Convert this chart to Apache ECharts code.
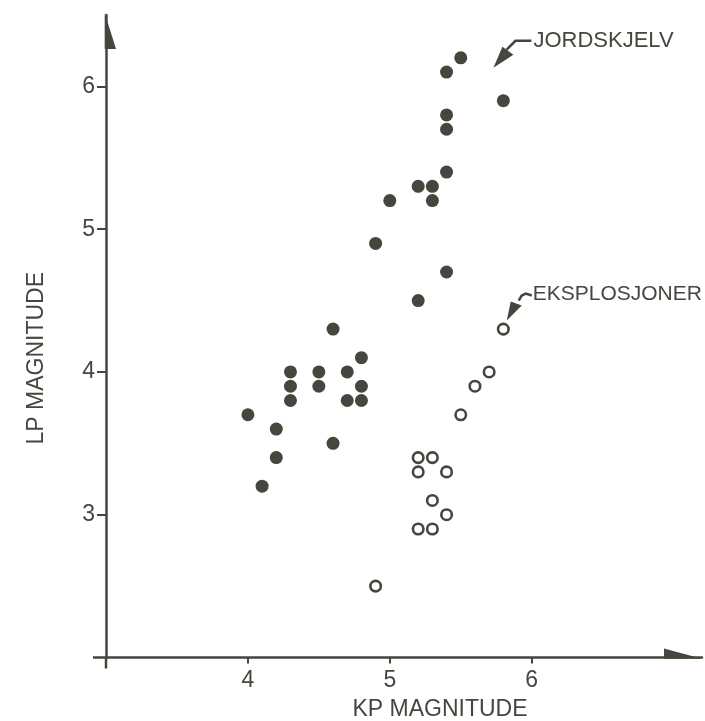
<!DOCTYPE html>
<html><head><meta charset="utf-8">
<script src="https://cdn.jsdelivr.net/npm/echarts@6/dist/echarts.min.js"></script>
<style>html,body{margin:0;padding:0;background:#fff}#c{width:705px;height:721px}</style>
</head><body><div id="c"></div>
<script>
const xTicks = [4, 5, 6];
const yTicks = [3, 4, 5, 6];
const earthquakeKP = [5.5,5.4,5.8,5.4,5.4,5.4,5.2,5.3,5.3,5.0,4.9,5.4,5.2,4.6,4.8,4.3,4.5,4.7,4.3,4.5,4.8,4.3,4.7,4.8,4.0,4.2,4.6,4.2,4.1];
const earthquakeLP = [6.2,6.1,5.9,5.8,5.7,5.4,5.3,5.3,5.2,5.2,4.9,4.7,4.5,4.3,4.1,4.0,4.0,4.0,3.9,3.9,3.9,3.8,3.8,3.8,3.7,3.6,3.5,3.4,3.2];
const explosionKP = [5.8,5.7,5.6,5.5,5.2,5.3,5.2,5.4,5.3,5.4,5.2,5.3,4.9];
const explosionLP = [4.3,4.0,3.9,3.7,3.4,3.4,3.3,3.3,3.1,3.0,2.9,2.9,2.5];
const annotationLabels = ['JORDSKJELV', 'EKSPLOSJONER'];
const annotationTips = [[5.73, 6.13], [5.824, 4.36]];

const INK = '#45463e';
const FONT = 'Liberation Sans';
const chart = echarts.init(document.getElementById('c'), null, {renderer: 'canvas'});

const quakes = earthquakeKP.map((x, i) => [x, earthquakeLP[i]]);
const blasts = explosionKP.map((x, i) => [x, explosionLP[i]]);

chart.setOption({
  animation: false,
  backgroundColor: '#fff',
  grid: {left: 106, right: 3, top: 15, bottom: 63.5, containLabel: false, outerBoundsMode: 'none'},
  xAxis: {
    type: 'value', min: 3, max: 7.2, interval: 1,
    name: 'KP MAGNITUDE', nameLocation: 'middle', nameGap: 41,
    nameTextStyle: {color: INK, fontFamily: FONT, fontSize: 23, padding: [0, 0, 0, 72]},
    axisLine: {show: true, lineStyle: {color: INK, width: 2.5}},
    axisTick: {show: true, customValues: xTicks, length: 6, lineStyle: {color: INK, width: 2}},
    axisLabel: {show: true, customValues: xTicks, color: INK, fontFamily: FONT, fontSize: 23, margin: 12},
    splitLine: {show: false}
  },
  yAxis: {
    type: 'value', min: 2, max: 6.5, interval: 1,
    name: 'LP MAGNITUDE', nameLocation: 'middle', nameGap: 58, nameRotate: 90,
    nameTextStyle: {color: INK, fontFamily: FONT, fontSize: 23, padding: [0, 44, 0, 0]},
    axisLine: {show: true, lineStyle: {color: INK, width: 2.5}},
    axisTick: {show: true, customValues: yTicks, length: 9, lineStyle: {color: INK, width: 2}},
    axisLabel: {show: true, customValues: yTicks, color: INK, fontFamily: FONT, fontSize: 23, margin: 11},
    splitLine: {show: false}
  },
  series: [
    {type: 'scatter', name: 'Jordskjelv', data: quakes, symbol: 'circle', symbolSize: 13,
     itemStyle: {color: INK, opacity: 1}},
    {type: 'scatter', name: 'Eksplosjoner', data: blasts, symbol: 'circle', symbolSize: 10.5,
     itemStyle: {color: '#fff', borderColor: INK, borderWidth: 2.6, opacity: 1}}
  ]
});

const px = v => chart.convertToPixel({gridIndex: 0}, v);
const o = px([3, 2]);
const xe = px([7.2, 2]);
const ye = px([3, 6.5]);
const g = [];
// axis extensions past the origin
g.push({type: 'line', shape: {x1: o[0] - 13, y1: o[1], x2: o[0], y2: o[1]}, style: {stroke: INK, lineWidth: 2.5}});
g.push({type: 'line', shape: {x1: o[0], y1: o[1], x2: o[0], y2: o[1] + 11}, style: {stroke: INK, lineWidth: 2.5}});
// half arrow heads
g.push({type: 'polygon', shape: {points: [[ye[0] - 1.3, ye[1] - 2], [ye[0] + 10, ye[1] + 34], [ye[0] - 1.3, ye[1] + 34]]}, style: {fill: INK}});
g.push({type: 'polygon', shape: {points: [[xe[0], xe[1] + 1.3], [xe[0] - 38, xe[1] - 9], [xe[0] - 38, xe[1] + 1.3]]}, style: {fill: INK}});

// annotation JORDSKJELV
const t1 = px(annotationTips[0]);
g.push({type: 'polyline', shape: {points: [[t1[0] + 38, t1[1] - 27], [t1[0] + 22, t1[1] - 27], [t1[0] + 13, t1[1] - 18]]}, style: {stroke: INK, lineWidth: 2.5, fill: null}});
g.push({type: 'polygon', shape: {points: [[t1[0], t1[1]], [t1[0] + 9, t1[1] - 21], [t1[0] + 20, t1[1] - 13]]}, style: {fill: INK}});
g.push({type: 'text', x: t1[0] + 40, y: t1[1] - 27, style: {text: annotationLabels[0], fill: INK, font: '22px ' + FONT, textVerticalAlign: 'middle', verticalAlign: 'middle'}});

// annotation EKSPLOSJONER
const t2 = px(annotationTips[1]);
g.push({type: 'polyline', shape: {points: [[t2[0] + 25, t2[1] - 25], [t2[0] + 19, t2[1] - 27], [t2[0] + 15, t2[1] - 25], [t2[0] + 12, t2[1] - 20]]}, style: {stroke: INK, lineWidth: 2.5, fill: null}});
g.push({type: 'polygon', shape: {points: [[t2[0], t2[1]], [t2[0] + 4, t2[1] - 19], [t2[0] + 15, t2[1] - 15]]}, style: {fill: INK}});
g.push({type: 'text', x: t2[0] + 26, y: t2[1] - 26, style: {text: annotationLabels[1], fill: INK, font: '21px ' + FONT, textVerticalAlign: 'middle', verticalAlign: 'middle'}});

chart.setOption({graphic: {elements: g}});
</script></body></html>
